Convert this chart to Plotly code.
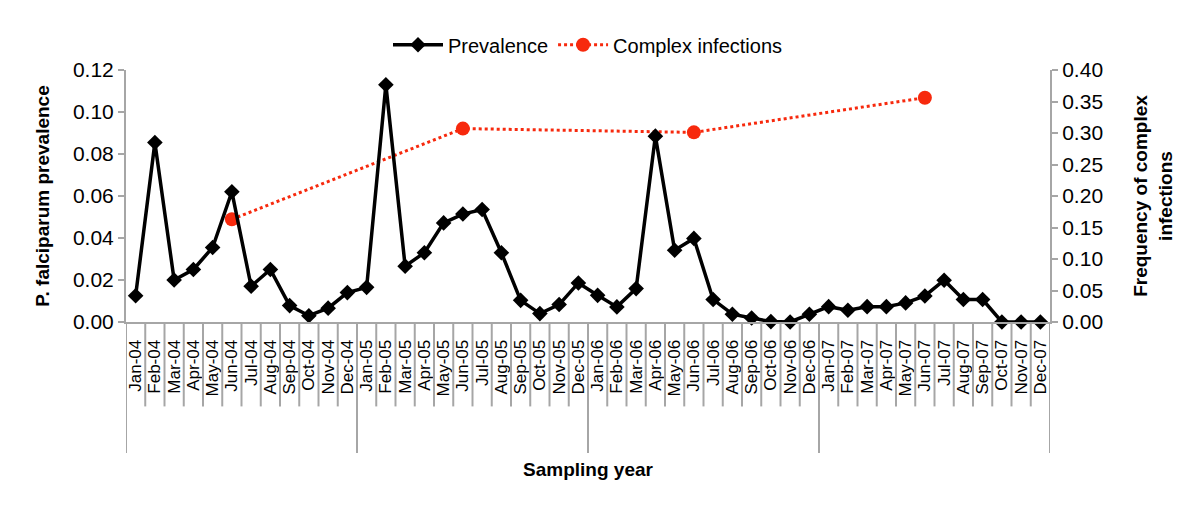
import plotly.graph_objects as go

months = ["Jan", "Feb", "Mar", "Apr", "May", "Jun", "Jul", "Aug", "Sep", "Oct", "Nov", "Dec"]
years = ["04", "05", "06", "07"]
categories = [f"{m}-{y}" for y in years for m in months]

prevalence = [
    0.0125, 0.0855, 0.0200, 0.0250, 0.0355, 0.0620, 0.0170, 0.0250, 0.0078, 0.0030, 0.0066, 0.0140,
    0.0165, 0.1130, 0.0266, 0.0330, 0.0472, 0.0514, 0.0536, 0.0330, 0.0103, 0.0040, 0.0083, 0.0186,
    0.0127, 0.0072, 0.0159, 0.0885, 0.0342, 0.0398, 0.0107, 0.0037, 0.0019, 0.0002, 0.0000, 0.0037,
    0.0073, 0.0056, 0.0073, 0.0073, 0.0091, 0.0124, 0.0199, 0.0107, 0.0107, 0.0000, 0.0000, 0.0000,
]

complex_months = ["Jun-04", "Jun-05", "Jun-06", "Jun-07"]
complex_values = [0.163, 0.307, 0.301, 0.356]
complex_series = [None] * len(categories)
for c, v in zip(complex_months, complex_values):
    complex_series[categories.index(c)] = v

FONT = "Liberation Sans, Arial, Helvetica, sans-serif"
GREY = "#A6A6A6"

fig = go.Figure()
fig.add_trace(go.Scatter(
    x=categories, y=prevalence, name="Prevalence", yaxis="y2",
    mode="lines+markers",
    line=dict(color="black", width=3.5),
    marker=dict(symbol="diamond", size=12, color="black"),
    cliponaxis=False,
))
fig.add_trace(go.Scatter(
    x=categories, y=complex_series, name="Complex infections", yaxis="y",
    mode="lines+markers", connectgaps=True,
    line=dict(color="#F7290D", width=3, dash="dot"),
    marker=dict(symbol="circle", size=14, color="#F7290D"),
    cliponaxis=False,
))

# category separators below the x axis
shapes = []
n = len(categories)
for i in range(n + 1):
    is_year = (i % 12 == 0)
    shapes.append(dict(
        type="line", xref="x", yref="paper",
        x0=i - 0.5, x1=i - 0.5, y0=0, y1=-0.52 if is_year else -0.335,
        line=dict(color=GREY, width=2),
    ))

fig.update_layout(
    width=1192, height=501,
    margin=dict(l=118, r=150, t=62, b=187, autoexpand=False),
    plot_bgcolor="white", paper_bgcolor="white",
    font=dict(family=FONT, size=18, color="black"),
    showlegend=True,
    legend=dict(orientation="h", x=0.5, xanchor="center", y=1.1, yanchor="middle",
                font=dict(size=20), itemwidth=50, bgcolor="rgba(0,0,0,0)"),
    shapes=shapes,
    xaxis=dict(
        type="category", categoryorder="array", categoryarray=categories,
        range=[-0.5, n - 0.5], automargin=False,
        tickmode="linear", tick0=0, dtick=1,
        tickangle=-90, tickfont=dict(size=17), ticklabelstandoff=9,
        ticks="", showgrid=False, zeroline=False,
        showline=True, linecolor=GREY, linewidth=2,
        title=dict(text="<b>Sampling year</b>", font=dict(size=19), standoff=67),
    ),
    yaxis=dict(
        side="right", range=[0, 0.4], dtick=0.05, tickformat=".2f", automargin=False,
        showgrid=False, zeroline=False,
        showline=True, linecolor=GREY, linewidth=2,
        ticks="outside", ticklen=6, tickcolor=GREY, tickwidth=2,
        tickfont=dict(size=21),
        title=dict(text="<b>Frequency of complex<br>infections</b>", font=dict(size=19), standoff=32),
    ),
    yaxis2=dict(
        side="left", overlaying="y", range=[0, 0.12], dtick=0.02, tickformat=".2f", automargin=False,
        showgrid=False, zeroline=False,
        showline=True, linecolor=GREY, linewidth=2,
        ticks="outside", ticklen=6, tickcolor=GREY, tickwidth=2,
        tickfont=dict(size=21),
        title=dict(text="<b>P. falciparum prevalence</b>", font=dict(size=19), standoff=18),
    ),
)

fig.write_html("out.html")
